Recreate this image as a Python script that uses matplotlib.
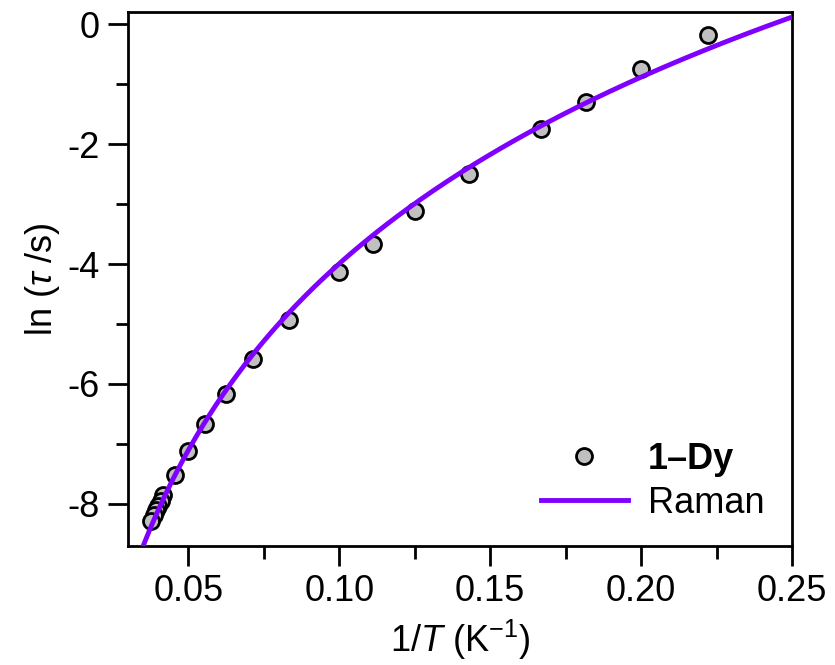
import numpy as np
import matplotlib
matplotlib.use("Agg")
import matplotlib.pyplot as plt
from matplotlib.ticker import MultipleLocator, FormatStrFormatter

plt.rcParams['font.family'] = ['Liberation Sans', 'DejaVu Sans']
plt.rcParams['mathtext.fontset'] = 'custom'
plt.rcParams['mathtext.rm'] = 'Liberation Sans'
plt.rcParams['mathtext.it'] = 'Liberation Sans:italic'
plt.rcParams['axes.unicode_minus'] = False

# Relaxation data: inverse temperature (K^-1) and ln(tau/s)
inv_T = [0.2222, 0.2000, 0.1818, 0.1667, 0.1429, 0.1250, 0.1111, 0.1000,
         0.0833, 0.0714, 0.0625, 0.0556, 0.0500, 0.0455, 0.0417, 0.0408,
         0.0400, 0.0392, 0.0385, 0.0377]
ln_tau = [-0.18, -0.75, -1.30, -1.74, -2.49, -3.12, -3.66, -4.13,
          -4.93, -5.59, -6.17, -6.67, -7.12, -7.52, -7.86, -7.95,
          -8.03, -8.11, -8.19, -8.29]

# Raman fit: tau^-1 = C * T^n
ln_C = -6.345
n_raman = 4.49

x_fit = np.linspace(0.034, 0.25, 400)
y_fit = -ln_C - n_raman * np.log(1.0 / x_fit)

fig = plt.figure(figsize=(8.35, 6.65), dpi=100)
ax = fig.add_axes([128 / 835, 119.3 / 665, 664 / 835, 533.4 / 665])

ax.plot(inv_T, ln_tau, linestyle='none', marker='o', markersize=11.5,
        markerfacecolor='#C0C0C0', markeredgecolor='black',
        markeredgewidth=2.0, label='1\u2013Dy', zorder=2)
ax.plot(x_fit, y_fit, color='#8000FF', linewidth=3.5, label='Raman', zorder=3)

ax.set_xlim(0.03, 0.25)
ax.set_ylim(-8.7, 0.2)

ax.xaxis.set_major_locator(MultipleLocator(0.05))
ax.xaxis.set_minor_locator(MultipleLocator(0.025))
ax.xaxis.set_major_formatter(FormatStrFormatter('%.2f'))
ax.yaxis.set_major_locator(MultipleLocator(2))
ax.yaxis.set_minor_locator(MultipleLocator(1))
ax.yaxis.set_major_formatter(FormatStrFormatter('%d'))

for s in ax.spines.values():
    s.set_linewidth(2.0)

ax.tick_params(which='both', direction='out', width=2.0, labelsize=26,
               top=False, right=False)
ax.tick_params(which='major', length=14.4, pad=6)
ax.tick_params(which='minor', length=9)

ax.set_xlabel(r'1/$\it{T}$ (K$^{-1}$)', fontsize=26, labelpad=6)
ax.set_ylabel(r'ln ($\it{\tau}$ /s)', fontsize=26, labelpad=4)

leg = ax.legend(loc='lower right', bbox_to_anchor=(0.98, 0.02), frameon=False,
                fontsize=26, handlelength=2.4, handletextpad=0.55,
                labelspacing=0.25, borderaxespad=0.0)
leg.get_texts()[0].set_fontweight('bold')

fig.savefig('out.png', dpi=100)
